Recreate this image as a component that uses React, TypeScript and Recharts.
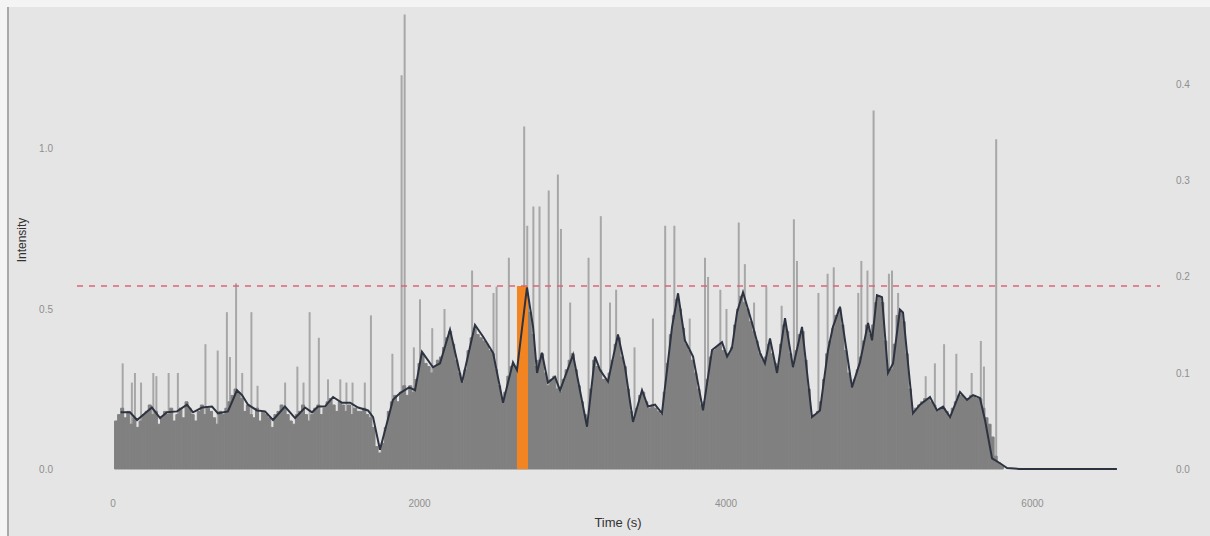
import {
  Bar,
  ComposedChart,
  Line,
  ReferenceArea,
  ReferenceLine,
  XAxis,
  YAxis,
} from "recharts";

// intensity per 20 s bin, t = 20 .. 5800
const BIN = 20;
const intensity = [
  0.15, 0.17, 0.19, 0.16, 0.18, 0.14, 0.16, 0.13, 0.15, 0.17,
  0.18, 0.2, 0.17, 0.18, 0.14, 0.16, 0.18, 0.17, 0.19, 0.15,
  0.17, 0.19, 0.16, 0.21, 0.19, 0.17, 0.15, 0.18, 0.2, 0.17,
  0.19, 0.18, 0.16, 0.14, 0.18, 0.17, 0.19, 0.21, 0.23, 0.25,
  0.24, 0.22, 0.18, 0.2, 0.17, 0.16, 0.19, 0.15, 0.18, 0.17,
  0.16, 0.13, 0.17, 0.18, 0.2, 0.19, 0.17, 0.15, 0.14, 0.17,
  0.18, 0.2, 0.17, 0.15, 0.17, 0.19, 0.2, 0.17, 0.19, 0.21,
  0.22, 0.2, 0.18, 0.21, 0.2, 0.18, 0.2, 0.17, 0.19, 0.18,
  0.18, 0.19, 0.17, 0.16, 0.13, 0.07, 0.05, 0.08, 0.13, 0.18,
  0.21, 0.23, 0.21, 0.24, 0.26, 0.23, 0.26, 0.24, 0.28, 0.33,
  0.36, 0.33, 0.32, 0.3, 0.32, 0.34, 0.35, 0.38, 0.41, 0.43,
  0.39, 0.34, 0.3, 0.27, 0.31, 0.37, 0.41, 0.44, 0.42, 0.41,
  0.4, 0.39, 0.37, 0.36, 0.31, 0.26, 0.22, 0.24, 0.29, 0.32,
  0.32, 0.31, 0.38, 0.46, 0.55, 0.49, 0.42, 0.32, 0.34, 0.36,
  0.3, 0.26, 0.28, 0.29, 0.25, 0.24, 0.28, 0.31, 0.34, 0.36,
  0.31, 0.26, 0.21, 0.17, 0.15, 0.25, 0.34, 0.32, 0.31, 0.28,
  0.28, 0.3, 0.34, 0.39, 0.41, 0.35, 0.32, 0.25, 0.18, 0.16,
  0.19, 0.23, 0.24, 0.21, 0.19, 0.2, 0.19, 0.18, 0.17, 0.24,
  0.33, 0.42, 0.48, 0.53, 0.5, 0.44, 0.39, 0.37, 0.34, 0.3,
  0.25, 0.2, 0.21, 0.28, 0.35, 0.37, 0.38, 0.39, 0.37, 0.36,
  0.36, 0.38, 0.45, 0.5, 0.54, 0.52, 0.5, 0.46, 0.43, 0.4,
  0.36, 0.34, 0.35, 0.39, 0.36, 0.33, 0.32, 0.39, 0.45, 0.43,
  0.36, 0.32, 0.37, 0.42, 0.43, 0.34, 0.25, 0.16, 0.17, 0.18,
  0.21, 0.28, 0.36, 0.4, 0.44, 0.48, 0.5, 0.45, 0.37, 0.3,
  0.26, 0.28, 0.31, 0.35, 0.4, 0.45, 0.42, 0.45, 0.52, 0.54,
  0.52, 0.4, 0.3, 0.31, 0.39, 0.48, 0.49, 0.46, 0.36, 0.25,
  0.17, 0.19, 0.2, 0.21, 0.22, 0.22, 0.21, 0.2, 0.18, 0.19,
  0.19, 0.18, 0.16, 0.19, 0.21, 0.23, 0.23, 0.22, 0.22, 0.23,
  0.23, 0.22, 0.22, 0.19, 0.16, 0.14, 0.1, 0.04, 0.02, 0.01,
];

// single tall scans [time, intensity]
const peaks: [number, number][] = [
  [60, 0.33], [120, 0.27], [140, 0.3], [180, 0.27], [260, 0.3], [280, 0.29],
  [360, 0.3], [420, 0.3], [600, 0.39], [680, 0.37], [740, 0.49], [760, 0.35],
  [800, 0.58], [840, 0.3], [900, 0.49], [940, 0.26], [1120, 0.27], [1200, 0.32],
  [1240, 0.27], [1280, 0.49], [1340, 0.41], [1400, 0.28], [1480, 0.28], [1520, 0.27],
  [1560, 0.27], [1640, 0.27], [1680, 0.48], [1820, 0.36], [1880, 1.23], [1900, 1.42],
  [1960, 0.38], [2000, 0.53], [2080, 0.44], [2160, 0.5], [2340, 0.62], [2480, 0.55],
  [2500, 0.57], [2580, 0.66], [2680, 1.07], [2700, 0.76], [2740, 0.82], [2780, 0.82],
  [2840, 0.87], [2900, 0.92], [2920, 0.75], [2980, 0.52], [3100, 0.66], [3180, 0.79],
  [3240, 0.52], [3280, 0.56], [3400, 0.38], [3520, 0.47], [3600, 0.76], [3660, 0.76],
  [3760, 0.47], [3860, 0.66], [3880, 0.6], [3960, 0.56], [4000, 0.5], [4080, 0.77],
  [4120, 0.64], [4180, 0.52], [4260, 0.57], [4360, 0.51], [4440, 0.78], [4460, 0.65],
  [4600, 0.55], [4660, 0.61], [4700, 0.63], [4860, 0.55], [4880, 0.65], [4920, 0.62],
  [4960, 1.12], [5060, 0.61], [5080, 0.62], [5120, 0.55], [5300, 0.29], [5360, 0.33],
  [5420, 0.39], [5500, 0.36], [5600, 0.3], [5660, 0.4], [5680, 0.32], [5760, 1.03],
];

// smoothed trace on the right axis [time, value]
const smooth: [number, number][] = [
  [50, 0.059], [111, 0.059], [157, 0.051], [209, 0.058], [254, 0.064], [307, 0.053],
  [352, 0.059], [418, 0.06], [483, 0.067], [522, 0.059], [581, 0.064], [646, 0.065],
  [685, 0.058], [750, 0.06], [809, 0.082], [842, 0.077], [881, 0.067], [940, 0.061],
  [992, 0.06], [1044, 0.051], [1122, 0.065], [1188, 0.053], [1253, 0.064], [1299, 0.059],
  [1338, 0.065], [1383, 0.065], [1436, 0.075], [1494, 0.069], [1547, 0.069], [1599, 0.064],
  [1664, 0.061], [1697, 0.054], [1742, 0.02], [1827, 0.072], [1873, 0.079], [1932, 0.085],
  [1971, 0.082], [2016, 0.122], [2088, 0.106], [2134, 0.11], [2199, 0.145], [2277, 0.09],
  [2362, 0.15], [2414, 0.138], [2480, 0.121], [2545, 0.069], [2610, 0.111], [2636, 0.103],
  [2701, 0.189], [2741, 0.148], [2767, 0.1], [2799, 0.121], [2838, 0.09], [2884, 0.096],
  [2917, 0.082], [3002, 0.119], [3093, 0.044], [3145, 0.117], [3178, 0.103], [3230, 0.091],
  [3295, 0.14], [3341, 0.106], [3393, 0.049], [3452, 0.082], [3491, 0.065], [3537, 0.067],
  [3582, 0.058], [3648, 0.148], [3687, 0.183], [3732, 0.134], [3785, 0.117], [3850, 0.061],
  [3909, 0.124], [3974, 0.132], [4007, 0.117], [4039, 0.126], [4072, 0.163], [4111, 0.184],
  [4170, 0.152], [4222, 0.121], [4254, 0.11], [4287, 0.136], [4333, 0.1], [4385, 0.157],
  [4437, 0.106], [4496, 0.148], [4561, 0.054], [4613, 0.061], [4666, 0.124], [4698, 0.148],
  [4744, 0.169], [4822, 0.085], [4874, 0.111], [4927, 0.152], [4953, 0.134], [4985, 0.181],
  [5018, 0.179], [5057, 0.1], [5090, 0.11], [5135, 0.166], [5155, 0.163], [5220, 0.058],
  [5266, 0.067], [5331, 0.075], [5377, 0.061], [5416, 0.065], [5462, 0.054], [5527, 0.08],
  [5573, 0.072], [5612, 0.077], [5657, 0.074], [5690, 0.051], [5736, 0.011], [5788, 0.006],
  [5834, 0.001], [5918, 0], [6551, 0],
];

const THRESHOLD = 0.572;
const WINDOW: [number, number] = [2636, 2708];

const xTicks = [0, 2000, 4000, 6000];
const leftTicks = [0, 0.5, 1.0];
const rightTicks = [0, 0.1, 0.2, 0.3, 0.4];

const X_DOMAIN: [number, number] = [-235, 6832];
const LEFT_DOMAIN: [number, number] = [-0.0656, 1.434];
const RIGHT_DOMAIN: [number, number] = [-0.021875, 0.478];

const peakByTime = new Map(peaks.map(([t, v]) => [t, v]));
const rows = intensity.map((v, i) => {
  const t = (i + 1) * BIN;
  return { t, base: v, peak: peakByTime.get(t) ?? null };
});
const smoothRows = smooth.map(([t, v]) => ({ t, v }));

const FONT = '"Liberation Sans Narrow", "Liberation Sans", Arial, sans-serif';
const tickStyle = { fill: "#8f8f8f", fontSize: 10, fontFamily: FONT };

export default function App() {
  return (
    <div style={{ position: "absolute", left: 0, top: 0, width: 1210, height: 536, background: "#f4f4f4" }}>
      <div style={{ position: "absolute", left: 9, top: 7, right: 0, bottom: 0, background: "#e5e5e5" }} />
      <div style={{ position: "absolute", left: 7, top: 7, width: 2, bottom: 0, background: "#a9a9a9" }} />

      <div style={{ position: "absolute", left: 0, top: 0 }}>
        <ComposedChart
          width={1210}
          height={536}
          data={rows}
          margin={{ top: 10, right: 10, bottom: 0, left: 37 }}
        >
          <XAxis
            xAxisId="base"
            type="number"
            dataKey="t"
            domain={X_DOMAIN}
            allowDataOverflow
            ticks={xTicks}
            tickLine={false}
            axisLine={false}
            tickSize={0}
            tickMargin={10}
            height={46}
            tick={tickStyle}
            label={{
              content: () => (
                <text x={618} y={527} textAnchor="middle" fill="#333" fontSize={13} fontFamily={FONT}>
                  Time (s)
                </text>
              ),
            }}
          />
          <XAxis xAxisId="peak" type="number" dataKey="t" domain={X_DOMAIN} allowDataOverflow hide />
          <XAxis xAxisId="trace" type="number" dataKey="t" domain={X_DOMAIN} allowDataOverflow hide />

          <YAxis
            yAxisId="left"
            type="number"
            domain={LEFT_DOMAIN}
            allowDataOverflow
            ticks={leftTicks}
            tickFormatter={(v: number) => v.toFixed(1)}
            tickLine={false}
            axisLine={false}
            tickSize={0}
            tickMargin={24}
            width={40}
            tick={tickStyle}
            label={{
              content: () => (
                <text
                  x={22}
                  y={240}
                  transform="rotate(-90, 22, 240)"
                  textAnchor="middle"
                  dominantBaseline="central"
                  fill="#333"
                  fontSize={12}
                  fontFamily={FONT}
                >
                  Intensity
                </text>
              ),
            }}
          />
          <YAxis
            yAxisId="right"
            orientation="right"
            type="number"
            domain={RIGHT_DOMAIN}
            allowDataOverflow
            ticks={rightTicks}
            tickFormatter={(v: number) => v.toFixed(1)}
            tickLine={false}
            axisLine={false}
            tickSize={0}
            tickMargin={16}
            width={40}
            tick={tickStyle}
          />

          <Bar
            xAxisId="peak"
            yAxisId="left"
            dataKey="peak"
            barSize={2}
            fill="#a7a7a7"
            isAnimationActive={false}
          />
          <Bar
            xAxisId="base"
            yAxisId="left"
            dataKey="base"
            barSize={3}
            fill="#808080"
            stroke="#808080"
            strokeWidth={1}
            isAnimationActive={false}
          />

          <ReferenceArea
            xAxisId="base"
            yAxisId="left"
            x1={WINDOW[0]}
            x2={WINDOW[1]}
            y1={0}
            y2={THRESHOLD}
            fill="#f28522"
            fillOpacity={1}
            stroke="none"
            zIndex={350}
          />

          <Line
            xAxisId="trace"
            yAxisId="right"
            data={smoothRows}
            dataKey="v"
            type="linear"
            stroke="#2d3340"
            strokeWidth={2}
            dot={false}
            isAnimationActive={false}
          />

          <ReferenceLine
            xAxisId="base"
            yAxisId="left"
            y={THRESHOLD}
            stroke="#dc6478"
            strokeWidth={1.5}
            strokeDasharray="6 6"
            zIndex={450}
          />
        </ComposedChart>
      </div>
    </div>
  );
}
